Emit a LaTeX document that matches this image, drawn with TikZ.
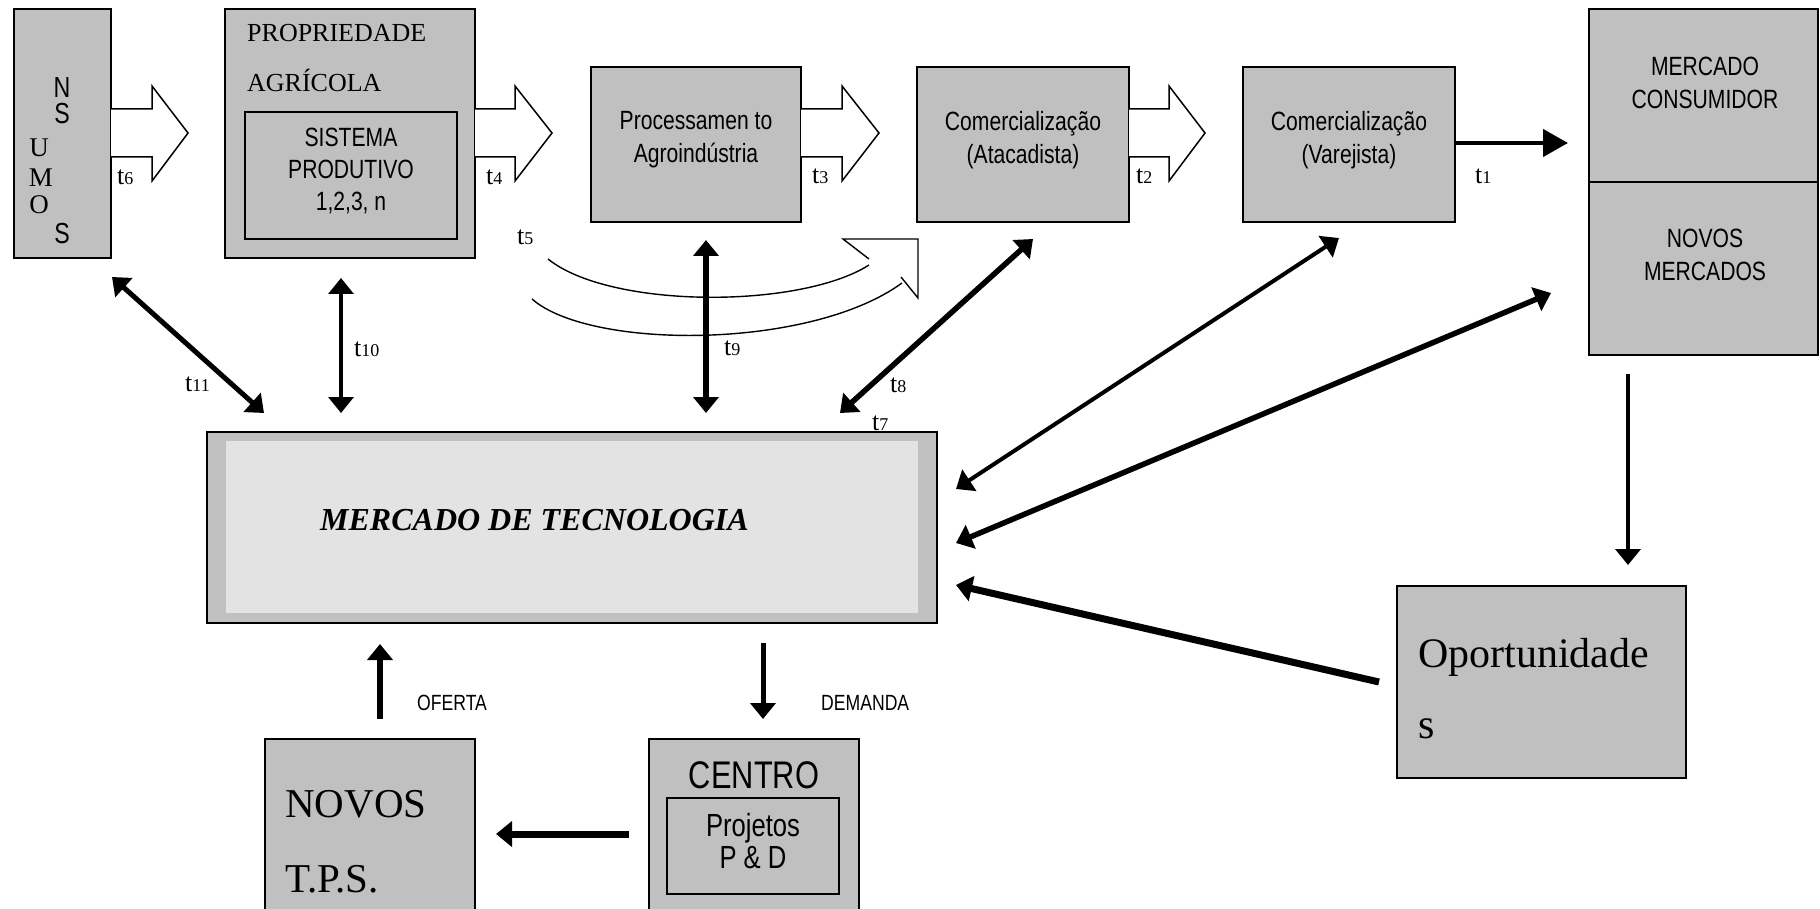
\documentclass[tikz,border=0pt]{standalone}
\usepackage{fontspec}
\setmainfont{Liberation Serif}
\newfontfamily\nar[FakeStretch=0.8]{Liberation Sans}
\usetikzlibrary{arrows.meta,fit}
\definecolor{boxgray}{HTML}{C0C0C0}
\definecolor{innergray}{HTML}{E3E3E3}
\newcommand{\fsz}[1]{\fontsize{#1}{#1}\selectfont}
\newcommand{\tlab}[1]{{\fsz{26}t\fsz{18}#1}}
\begin{document}
\begin{tikzpicture}[x=1pt,y=-1pt,
  box/.style={draw=black, fill=boxgray, line width=1.8pt, inner sep=0pt},
  blk/.style={draw=black, fill=white, line width=1.5pt, line join=miter},
  sans/.style={font=\nar\fontsize{26.4}{33}\selectfont, align=center, inner sep=0pt},
  serif/.style={font=\fontsize{26}{26}\selectfont, inner sep=0pt},
  letter/.style={inner sep=0pt, anchor=base, text height=19pt, text depth=0pt},
  tl/.style={inner sep=0pt, anchor=base west},
  conn/.style={line width=#1, -{Triangle[length=16pt,width=25pt]}},
  dconn/.style={line width=#1, {Triangle[length=16pt,width=25pt]}-{Triangle[length=16pt,width=25pt]}},
]
\useasboundingbox (0,0) rectangle (1820,909);
\fill[white] (0,0) rectangle (1820,909);
\clip (0,0) rectangle (1820,909);

% ---------- top row boxes
\node[box, fit={(14,9) (111,258)}] (insumos) {};
\node[box, fit={(225,9) (475,258)}] (prop) {};
\node[box, fit={(245,112) (457,239)}] (sist) {};
\node[box, fit={(591,67) (801,222)}] (proc) {};
\node[box, fit={(917,67) (1129,222)}] (atac) {};
\node[box, fit={(1243,67) (1455,222)}] (varej) {};
\node[box, fit={(1589,9) (1818,182)}] (mcons) {};
\node[box, fit={(1589,182) (1818,355)}] (nmerc) {};

% ---------- middle / bottom boxes
\node[box, fit={(207,432) (937,623)}] (mtec) {};
\fill[innergray] (226,441) rectangle (918,613);
\node[box, fit={(1397,586) (1686,778)}] (oport) {};
\node[box, fit={(265,739) (475,925)}] (novos) {};
\node[box, fit={(649,739) (859,925)}] (centro) {};
\node[box, fit={(667,798) (839,894)}] (proj) {};

% ---------- texts
\node[letter, font=\nar\fsz{29}] (iN) at (62,98) {N};
\node[letter, font=\nar\fsz{29}] (iS1) at (62,124) {S};
\node[letter, font=\fsz{27}] (iU) at (39,157) {U};
\node[letter, font=\fsz{27}] (iM) at (41,187) {M};
\node[letter, font=\fsz{27}] (iO) at (39,214) {O};
\node[letter, font=\nar\fsz{29}] (iS2) at (62,244) {S};

\node[serif, anchor=base west] (tprop1) at (247,42) {PROPRIEDADE};
\node[serif, anchor=base west] (tprop2) at (247,92) {AGRÍCOLA};
\node[sans, font=\nar\fontsize{26.4}{32}\selectfont] (tsist) at (351,171) {SISTEMA\\PRODUTIVO\\1,2,3, n};
\node[sans] (tproc) at (696,140) {Processamen to\\Agroindústria};
\node[sans] (tatac) at (1023,140) {Comercialização\\(Atacadista)};
\node[sans] (tvarej) at (1349,140) {Comercialização\\(Varejista)};
\node[sans] (tmcons) at (1705,83) {MERCADO\\CONSUMIDOR};
\node[sans] (tnmerc) at (1705,255) {NOVOS\\MERCADOS};

\node[inner sep=0pt, anchor=base west, font=\bfseries\itshape\fsz{32}] (tmtec) at (320,530) {MERCADO DE TECNOLOGIA};

\node[inner sep=0pt, anchor=base west, font=\fsz{42}] (topo1) at (1418,667) {Oportunidade};
\node[inner sep=0pt, anchor=base west, font=\fsz{42}] (topo2) at (1418,738) {s};

\node[inner sep=0pt, anchor=base west, font=\fsz{41}] (tnov1) at (285,817) {NOVOS};
\node[inner sep=0pt, anchor=base west, font=\fsz{41}] (tnov2) at (285,892) {T.P.S.};

\node[inner sep=0pt, anchor=base, font=\nar\fsz{38.5}] (tcentro) at (754,788) {CENTRO};
\node[sans, font=\nar\fontsize{32}{32}\selectfont] (tproj) at (753,841) {Projetos\\P \& D};

\node[inner sep=0pt, anchor=base west, font=\nar\fsz{22}] (toferta) at (417,710) {OFERTA};
\node[inner sep=0pt, anchor=base west, font=\nar\fsz{22}] (tdemanda) at (821,710) {DEMANDA};

% ---------- t labels
\node[tl] (l6) at (117,185) {\tlab{6}};
\node[tl] (l4) at (486,185) {\tlab{4}};
\node[tl] (l3) at (812,184) {\tlab{3}};
\node[tl] (l2) at (1136,184) {\tlab{2}};
\node[tl] (l1) at (1475,184) {\tlab{1}};
\node[tl] (l5) at (517,245) {\tlab{5}};
\node[tl] (l9) at (724,355) {\tlab{9}};
\node[tl] (l10) at (354,356) {\tlab{10}};
\node[tl] (l11) at (185,391) {\tlab{11}};
\node[tl] (l8) at (890,392) {\tlab{8}};
\node[tl] (l7) at (872,430) {\tlab{7}};

% ---------- block arrows (t6, t4, t3, t2)
\draw[blk] (111,109) -- (152,109) -- (152,86) -- (188,133) -- (152,181) -- (152,157) -- (111,157);
\draw[blk] (475,109) -- (515,109) -- (515,86) -- (552,133) -- (515,181) -- (515,157) -- (475,157);
\draw[blk] (801,109) -- (842,109) -- (842,86) -- (879,133) -- (842,181) -- (842,157) -- (801,157);
\draw[blk] (1129,109) -- (1169,109) -- (1169,86) -- (1205,133) -- (1169,181) -- (1169,157) -- (1129,157);

% ---------- t5 curved open arrow
\draw[line width=1.4pt] (548,259) .. controls (610,309) and (800,309) .. (869,265);
\draw[line width=1.4pt] (532,299) .. controls (590,350) and (810,350) .. (902,283);
\draw[line width=1.4pt, line join=miter] (869,259) -- (843,239) -- (918,239) -- (918,298) -- (901,277);

% ---------- connector end points
\coordinate (c1a) at (1455,143);  \coordinate (c1b) at (1568,143);
\coordinate (c11a) at (112,277);  \coordinate (c11b) at (264,413);
\coordinate (c10a) at (341,278);  \coordinate (c10b) at (341,413);
\coordinate (c9a) at (706,240);   \coordinate (c9b) at (706,413);
\coordinate (c8a) at (1033,239);  \coordinate (c8b) at (840,413);
\coordinate (cva) at (1339,238);  \coordinate (cvb) at (956,489);
\coordinate (cna) at (1551,293);  \coordinate (cnb) at (956,543);
\coordinate (coa) at (1379,682);  \coordinate (cob) at (956,585);
\coordinate (cma) at (1628,374);  \coordinate (cmb) at (1628,565);
\coordinate (cofa) at (380,719);  \coordinate (cofb) at (380,644);
\coordinate (cdea) at (763,643);  \coordinate (cdeb) at (763,719);
\coordinate (ccna) at (629,834);  \coordinate (ccnb) at (496,834);

% ---------- connectors
\draw[line width=4.5pt, -{Triangle[length=25pt,width=27pt]}] (c1a) -- (c1b);
\draw[dconn=5pt] (c11a) -- (c11b);
\draw[dconn=3.5pt] (c10a) -- (c10b);
\draw[dconn=6pt] (c9a) -- (c9b);
\draw[dconn=5.5pt] (c8a) -- (c8b);
\draw[dconn=4pt] (cva) -- (cvb);
\draw[dconn=5.5pt] (cna) -- (cnb);
\draw[conn=7pt] (coa) -- (cob);
\draw[conn=4pt] (cma) -- (cmb);
\draw[conn=6pt] (cofa) -- (cofb);
\draw[conn=5pt] (cdea) -- (cdeb);
\draw[conn=7pt] (ccna) -- (ccnb);
\end{tikzpicture}
\end{document}
